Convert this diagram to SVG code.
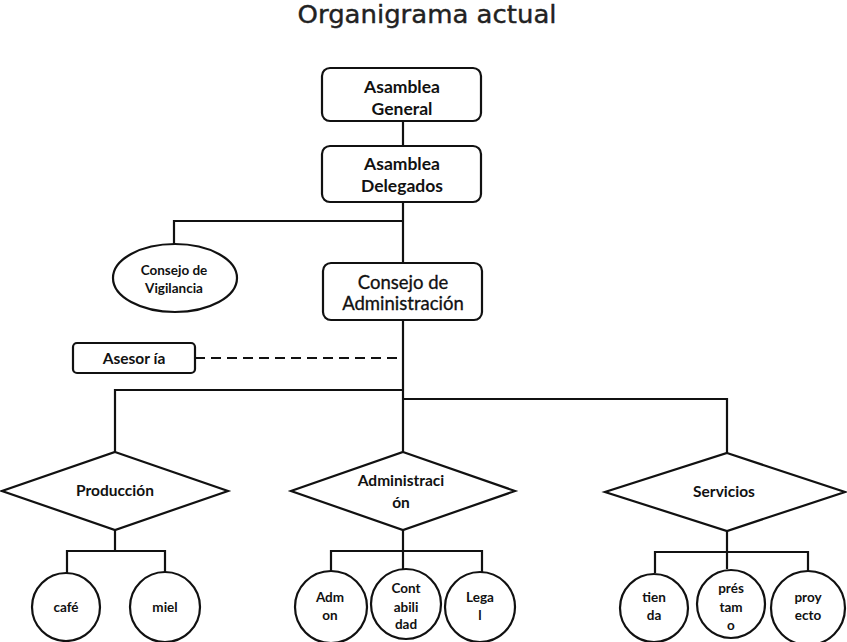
<svg xmlns="http://www.w3.org/2000/svg" width="847" height="642" viewBox="0 0 847 642">
<style>
.s{fill:#fff;stroke:#111;stroke-width:2.2}
.c{fill:none;stroke:#111;stroke-width:2.2}
text{font-family:Lato,"Liberation Sans",sans-serif;font-weight:700;fill:#111;text-anchor:middle}
.t{font-family:"DejaVu Sans",sans-serif;font-weight:400;font-size:25px;fill:#222;stroke:#222;stroke-width:0.4}
.b{font-size:17.5px}
.m{font-size:18.5px;font-weight:400;stroke:#111;stroke-width:0.3}
.n{font-size:13.5px}
.d{font-size:15.5px}
.k{font-size:13.5px}
</style>
<rect width="847" height="642" fill="#fff"/>
<text class="t" x="427" y="23" textLength="259" lengthAdjust="spacingAndGlyphs">Organigrama actual</text>
<g id="connectors">
<line class="c" x1="403" y1="121" x2="403" y2="146"/>
<polyline class="c" points="174,244 174,221 403,221"/>
<line class="c" x1="403" y1="202" x2="403" y2="263"/>
<line class="c" x1="403" y1="320" x2="403" y2="452"/>
<line class="c" x1="195" y1="358" x2="403" y2="358" stroke-dasharray="10,6"/>
<polyline class="c" points="115,452 115,390 403,390"/>
<polyline class="c" points="403,399 727,399 727,453"/>
<line class="c" x1="115" y1="530" x2="115" y2="551"/>
<polyline class="c" points="67,573 67,551 165,551 165,573"/>
<line class="c" x1="403" y1="530" x2="403" y2="569"/>
<polyline class="c" points="331,572 331,551 482,551 482,572"/>
<line class="c" x1="727" y1="531" x2="727" y2="569"/>
<polyline class="c" points="655,573 655,552 808,552 808,573"/>
</g>
<g id="asamblea-general">
<rect class="s" x="322" y="68" width="159" height="53" rx="8"/>
<text class="b" x="402" y="93">Asamblea</text>
<text class="b" x="402" y="115">General</text>
</g>
<g id="asamblea-delegados">
<rect class="s" x="322" y="146" width="159" height="56" rx="8"/>
<text class="b" x="402" y="170">Asamblea</text>
<text class="b" x="402" y="192">Delegados</text>
</g>
<g id="consejo-vigilancia">
<ellipse class="s" cx="175" cy="278" rx="62" ry="34"/>
<text class="n" x="174" y="275">Consejo de</text>
<text class="n" x="174" y="293">Vigilancia</text>
</g>
<g id="consejo-administracion">
<rect class="s" x="323" y="263" width="159" height="57" rx="8"/>
<text class="m" x="403" y="289">Consejo de</text>
<text class="m" x="403" y="310">Administración</text>
</g>
<g id="asesoria">
<rect class="s" x="73" y="343" width="122" height="30" rx="4"/>
<text class="d" x="134" y="364">Asesor ía</text>
</g>
<g id="produccion">
<polygon class="s" points="115,452 228,491 115,530 2,491"/>
<text class="d" x="115" y="496">Producción</text>
</g>
<g id="administracion">
<polygon class="s" points="403,452 515,491 403,530 291,491"/>
<text class="d" x="401" y="486">Administraci</text>
<text class="d" x="401" y="508">ón</text>
</g>
<g id="servicios">
<polygon class="s" points="727,453 845,492 727,531 605,492"/>
<text class="d" x="724" y="497">Servicios</text>
</g>
<g id="cafe">
<circle class="s" cx="66" cy="607" r="34"/>
<text class="k" x="66" y="612">café</text>
</g>
<g id="miel">
<circle class="s" cx="165" cy="607" r="35"/>
<text class="k" x="165" y="612">miel</text>
</g>
<g id="admon">
<circle class="s" cx="331" cy="607" r="36"/>
<text class="k" x="330" y="602">Adm</text>
<text class="k" x="330" y="620">on</text>
</g>
<g id="contabilidad">
<circle class="s" cx="406" cy="604" r="35"/>
<text class="k" x="406" y="593">Cont</text>
<text class="k" x="406" y="612">abili</text>
<text class="k" x="406" y="629">dad</text>
</g>
<g id="legal">
<circle class="s" cx="480" cy="607" r="35"/>
<text class="k" x="480" y="602">Lega</text>
<text class="k" x="480" y="620">l</text>
</g>
<g id="tienda">
<circle class="s" cx="654" cy="608" r="34"/>
<text class="k" x="654" y="602">tien</text>
<text class="k" x="654" y="620">da</text>
</g>
<g id="prestamo">
<circle class="s" cx="731" cy="604" r="34"/>
<text class="k" x="731" y="593">prés</text>
<text class="k" x="731" y="612">tam</text>
<text class="k" x="731" y="630">o</text>
</g>
<g id="proyecto">
<circle class="s" cx="808" cy="608" r="37"/>
<text class="k" x="808" y="602">proy</text>
<text class="k" x="808" y="620">ecto</text>
</g>
</svg>
